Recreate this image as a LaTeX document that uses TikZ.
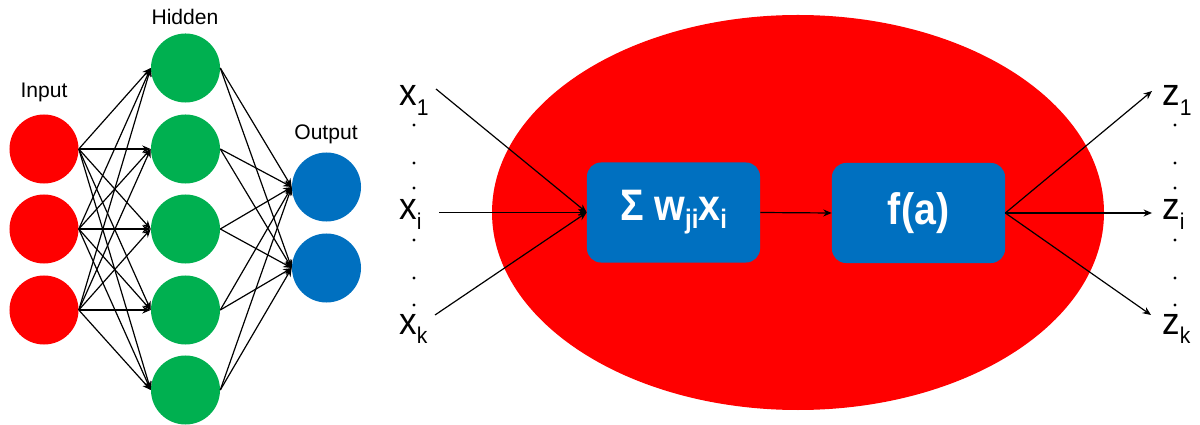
\documentclass[tikz,border=0pt]{standalone}
\usepackage{graphicx}
\usepackage{fontspec}
\setmainfont{Liberation Sans}
\usetikzlibrary{arrows.meta,positioning}
\definecolor{nnred}{RGB}{255,0,0}
\definecolor{nngreen}{RGB}{0,176,80}
\definecolor{nnblue}{RGB}{0,112,192}
\newcommand{\lblsub}[2]{\scalebox{1}[1.08]{#1\raisebox{-6.5pt}{\fontsize{15}{15}\selectfont #2}}}
\newcommand{\boxsub}[2]{#1\raisebox{-5pt}{\fontsize{17}{17}\selectfont #2}}
\tikzset{
  neuron/.style   ={circle, draw=none, minimum size=1.725cm, inner sep=0pt},
  nin/.style      ={neuron, fill=nnred},
  nhid/.style     ={neuron, fill=nngreen},
  nout/.style     ={neuron, fill=nnblue},
  layerlbl/.style ={anchor=base, inner sep=0pt, font=\fontsize{15}{15}\selectfont},
  nnlink/.style   ={-{Stealth[length=6pt,width=5pt]}, line width=0.85pt, black},
  opbox/.style    ={rectangle, rounded corners=0.35cm, fill=nnblue, text=white,
                    minimum width=4.325cm, minimum height=2.5cm, inner sep=0pt,
                    font=\bfseries\fontsize{28}{28}\selectfont},
  iolbl/.style    ={anchor=base west, inner sep=0pt, font=\fontsize{25}{25}\selectfont},
  vdot/.style     ={circle, fill=black, minimum size=2.4pt, inner sep=0pt},
  cellbg/.style   ={fill=nnred},
}
\begin{document}
\begin{tikzpicture}[x=0.025cm, y=-0.025cm]
  \useasboundingbox (0,0) rectangle (1200,425);
  % small network
  \foreach \i/\y in {1/149, 2/229, 3/310} {\node[nin] (in\i) at (44,\y) {};}
  \foreach \j/\y in {1/68, 2/149, 3/229, 4/310, 5/390} {\node[nhid] (h\j) at (185.5,\y) {};}
  \foreach \k/\y in {1/187, 2/268} {\node[nout] (o\k) at (326.5,\y) {};}
  \node[layerlbl] (lin)  at (44,98)  {Input};
  \node[layerlbl] (lhid) at (185,25) {Hidden};
  \node[layerlbl] (lout) at (326,140) {Output};
  \foreach \i in {1,2,3} {\foreach \j in {1,...,5} {\draw[nnlink] (in\i.east) -- (h\j.west);}}
  \foreach \j in {1,...,5} {\foreach \k in {1,2} {\draw[nnlink] (h\j.east) -- (o\k.west);}}
  % single neuron
  \fill[cellbg] (798,212.5) ellipse [x radius=306, y radius=197.5];
  \node[opbox] (sum) at (673.5,212.5) {\scalebox{1}[1.12]{Σ \boxsub{w}{ji}\boxsub{x}{i}}};
  \node[opbox] (act) at (918.5,213) {\scalebox{1}[1.12]{f(a)}};
  \node[iolbl] (x1) at (399,106) {\lblsub{x}{1}};
  \node[iolbl] (xi) at (399,220) {\lblsub{x}{i}};
  \node[iolbl] (xk) at (399,334) {\lblsub{x}{k}};
  \node[iolbl] (z1) at (1162,106) {\lblsub{z}{1}};
  \node[iolbl] (zi) at (1162,220) {\lblsub{z}{i}};
  \node[iolbl] (zk) at (1162,334) {\lblsub{z}{k}};
  \foreach \n/\y in {1/125, 2/163, 3/188, 4/240, 5/278, 6/305} {
    \node[vdot] (xd\n) at (414,\y) {};
    \node[vdot] (zd\n) at (1175,\y) {};
  }
  \coordinate (x1out) at (436,89);
  \coordinate (xiout) at (439,212.5);
  \coordinate (xkout) at (435,315);
  \coordinate (z1in) at (1152,91);
  \coordinate (ziin) at (1152,213);
  \coordinate (zkin) at (1151,315);
  \foreach \s in {x1out, xiout, xkout} {\draw[nnlink] (\s) -- (sum.west);}
  \draw[nnlink] (sum.east) -- (act.west);
  \foreach \t in {z1in, ziin, zkin} {\draw[nnlink] (act.east) -- (\t);}
\end{tikzpicture}
\end{document}
